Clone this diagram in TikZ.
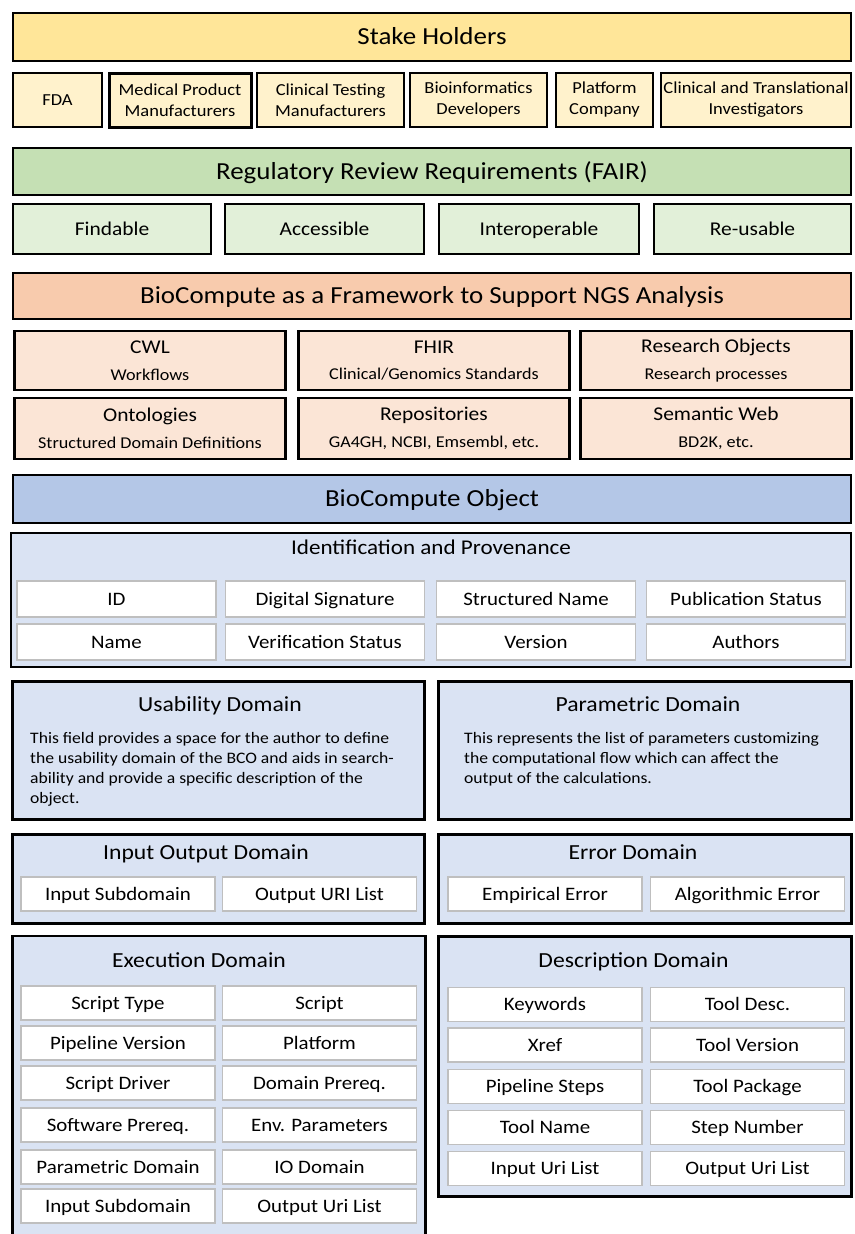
\documentclass[tikz,border=0pt]{standalone}
\usepackage{fontspec}
\setmainfont{Carlito}[FakeStretch=1.1]

\definecolor{stakegold}{HTML}{FFE699}
\definecolor{stakelight}{HTML}{FFF2CC}
\definecolor{fairgreen}{HTML}{C5E0B4}
\definecolor{fairlight}{HTML}{E2F0D9}
\definecolor{framesalmon}{HTML}{F8CBAD}
\definecolor{framelight}{HTML}{FBE5D6}
\definecolor{bcoblue}{HTML}{B4C7E7}
\definecolor{domainblue}{HTML}{DAE3F3}
\definecolor{fieldgray}{HTML}{BFBFBF}

\newcommand\fsize[2]{\fontsize{#1}{#2}\selectfont}
\newcommand\subfont{\fsize{16.5}{26.5}}

\begin{document}
\begin{tikzpicture}[x = 1pt, y = -1pt,
        block/.style = {draw, line width = 2.2pt, fill = #1, inner sep = 0pt, align = center},
        banner/.style = {block = #1, minimum width = 838, minimum height = 48, text height = 20.8pt, text depth = 5pt, font = \fsize{24.5}{30}},
        holder/.style = {block = stakelight, minimum height = 54, font = \fsize{16.8}{21}},
        fairbox/.style = {block = fairlight, minimum height = 50, text height = 16.6pt, text depth = 4pt, font = \fsize{19.5}{24}},
        framebox/.style = {block = framelight, minimum width = 271, font = \fsize{19.5}{26.5}},
        domainbox/.style = {block = domainblue},
        domtitle/.style = {inner sep = 0pt, text height = 17.8pt, text depth = 4pt, font = \fsize{21.5}{26}},
        bodytext/.style = {inner sep = 0pt, anchor = north west, align = left, font = \fsize{16}{20}},
        field/.style = {draw = fieldgray, line width = 1.6pt, fill = white, inner sep = 0pt, minimum width = 194, minimum height = 34, text height = 16.2pt, text depth = 4pt, font = \fsize{19}{23}}]
    \clip (0, 0) rectangle (854, 1234);
    \fill[white] (0, 0) rectangle (854, 1234);

    % stake holders
    \node[banner = stakegold] (stake) at (432, 37) {Stake Holders};
    \node[holder, minimum width = 89] (fda) at (57.5, 100) {FDA};
    \node[holder, minimum width = 142, line width = 3pt] (medical) at (180, 100) {Medical Product\\Manufacturers};
    \node[holder, minimum width = 147] (testing) at (330.5, 100) {Clinical Testing\\Manufacturers};
    \node[holder, minimum width = 137] (bioinf) at (478.5, 100) {Bioinformatics\\Developers};
    \node[holder, minimum width = 97] (platform) at (604.5, 100) {Platform\\Company};
    \node[holder, minimum width = 190] (investig) at (756, 100) {Clinical and Translational\\Investigators};

    % FAIR
    \node[banner = fairgreen, minimum height = 47] (regul) at (432, 171.5) {Regulatory Review Requirements (FAIR)};
    \node[fairbox, minimum width = 198] (findable) at (112, 229) {Findable};
    \node[fairbox, minimum width = 199] (access) at (324.5, 229) {Accessible};
    \node[fairbox, minimum width = 200] (interop) at (539, 229) {Interoperable};
    \node[fairbox, minimum width = 197] (reuse) at (752.5, 229) {Re-usable};

    % framework
    \node[banner = framesalmon, minimum height = 46] (framework) at (432, 296) {BioCompute as a Framework to Support NGS Analysis};
    \node[framebox, minimum height = 59] (cwl) at (150, 360.5) {CWL\\{\subfont Workflows}};
    \node[framebox, minimum height = 59] (fhir) at (434, 360.5) {FHIR\\{\subfont Clinical/Genomics Standards}};
    \node[framebox, minimum height = 59] (resobj) at (716, 360.5) {Research Objects\\{\subfont Research processes}};
    \node[framebox, minimum height = 61] (ontol) at (150, 428.5) {Ontologies\\{\subfont Structured Domain Definitions}};
    \node[framebox, minimum height = 61] (repos) at (434, 428.5) {Repositories\\{\subfont GA4GH, NCBI, Emsembl, etc.}};
    \node[framebox, minimum height = 61] (semweb) at (716, 428.5) {Semantic Web\\{\subfont BD2K, etc.}};

    % biocompute object
    \node[banner = bcoblue] (bco) at (432, 499) {BioCompute Object};

    \node[domainbox, minimum width = 840, minimum height = 134] (ident) at (431, 600) {};
    \node[domtitle, font = \fsize{21}{26}] (ident-t) at (431, 548) {Identification and Provenance};
    \node[field, minimum width = 199, minimum height = 36] (id) at (116.5, 599) {ID};
    \node[field, minimum width = 199, minimum height = 36] (signat) at (325, 599) {Digital Signature};
    \node[field, minimum width = 199, minimum height = 36] (strname) at (536, 599) {Structured Name};
    \node[field, minimum width = 199, minimum height = 36] (pubstat) at (746, 599) {Publication Status};
    \node[field, minimum width = 199, minimum height = 36] (name) at (116.5, 642) {Name};
    \node[field, minimum width = 199, minimum height = 36] (verstat) at (325, 642) {Verification Status};
    \node[field, minimum width = 199, minimum height = 36] (version) at (536, 642) {Version};
    \node[field, minimum width = 199, minimum height = 36] (authors) at (746, 642) {Authors};

    \node[domainbox, minimum width = 412, minimum height = 138] (usab) at (218.5, 750.5) {};
    \node[domtitle] (usab-t) at (220, 705) {Usability Domain};
    \node[bodytext] (usab-txt) at (30, 732) {This field provides a space for the author to define\\the usability domain of the BCO and aids in search-\\ability and provide a specific description of the\\object.};
    \node[domainbox, minimum width = 413, minimum height = 138] (param) at (645, 750.5) {};
    \node[domtitle] (param-t) at (648, 705) {Parametric Domain};
    \node[bodytext] (param-txt) at (464, 732) {This represents the list of parameters customizing\\the computational flow which can affect the\\output of the calculations.};

    \node[domainbox, minimum width = 412, minimum height = 89] (iodom) at (218.5, 879) {};
    \node[domtitle] (iodom-t) at (206, 853) {Input Output Domain};
    \node[field] (io-in) at (118, 894) {Input Subdomain};
    \node[field] (io-out) at (319.5, 894) {Output URI List};
    \node[domainbox, minimum width = 413, minimum height = 89] (errdom) at (645, 879) {};
    \node[domtitle] (errdom-t) at (633, 853) {Error Domain};
    \node[field] (emperr) at (545, 894) {Empirical Error};
    \node[field] (algerr) at (747.5, 894) {Algorithmic Error};

    % execution
    \node[domainbox, minimum width = 413, minimum height = 314] (exec) at (219, 1093) {};
    \node[domtitle] (exec-t) at (199, 961) {Execution Domain};
    \node[field] (scrtype) at (118, 1003) {Script Type};
    \node[field] (script) at (319.5, 1003) {Script};
    \node[field] (pipever) at (118, 1043) {Pipeline Version};
    \node[field] (platf) at (319.5, 1043) {Platform};
    \node[field] (scrdrv) at (118, 1083) {Script Driver};
    \node[field] (domprq) at (319.5, 1083) {Domain Prereq.};
    \node[field] (swprq) at (118, 1125) {Software Prereq.};
    \node[field] (envpar) at (319.5, 1125) {Env. Parameters};
    \node[field] (pardom) at (118, 1167) {Parametric Domain};
    \node[field] (iodm) at (319.5, 1167) {IO Domain};
    \node[field] (insub) at (118, 1206) {Input Subdomain};
    \node[field] (outuri) at (319.5, 1206) {Output Uri List};

    % description
    \node[domainbox, minimum width = 413, minimum height = 260] (desc) at (645, 1066.5) {};
    \node[domtitle] (desc-t) at (633.5, 961) {Description Domain};
    \node[field] (keyw) at (545, 1004.5) {Keywords};
    \node[field] (tooldsc) at (747.5, 1004.5) {Tool Desc.};
    \node[field] (xref) at (545, 1045) {Xref};
    \node[field] (toolver) at (747.5, 1045) {Tool Version};
    \node[field] (pipestp) at (545, 1086.5) {Pipeline Steps};
    \node[field] (toolpkg) at (747.5, 1086.5) {Tool Package};
    \node[field] (toolnm) at (545, 1127.5) {Tool Name};
    \node[field] (stepnum) at (747.5, 1127.5) {Step Number};
    \node[field] (inlist) at (545, 1168.5) {Input Uri List};
    \node[field] (outlist) at (747.5, 1168.5) {Output Uri List};
\end{tikzpicture}
\end{document}
